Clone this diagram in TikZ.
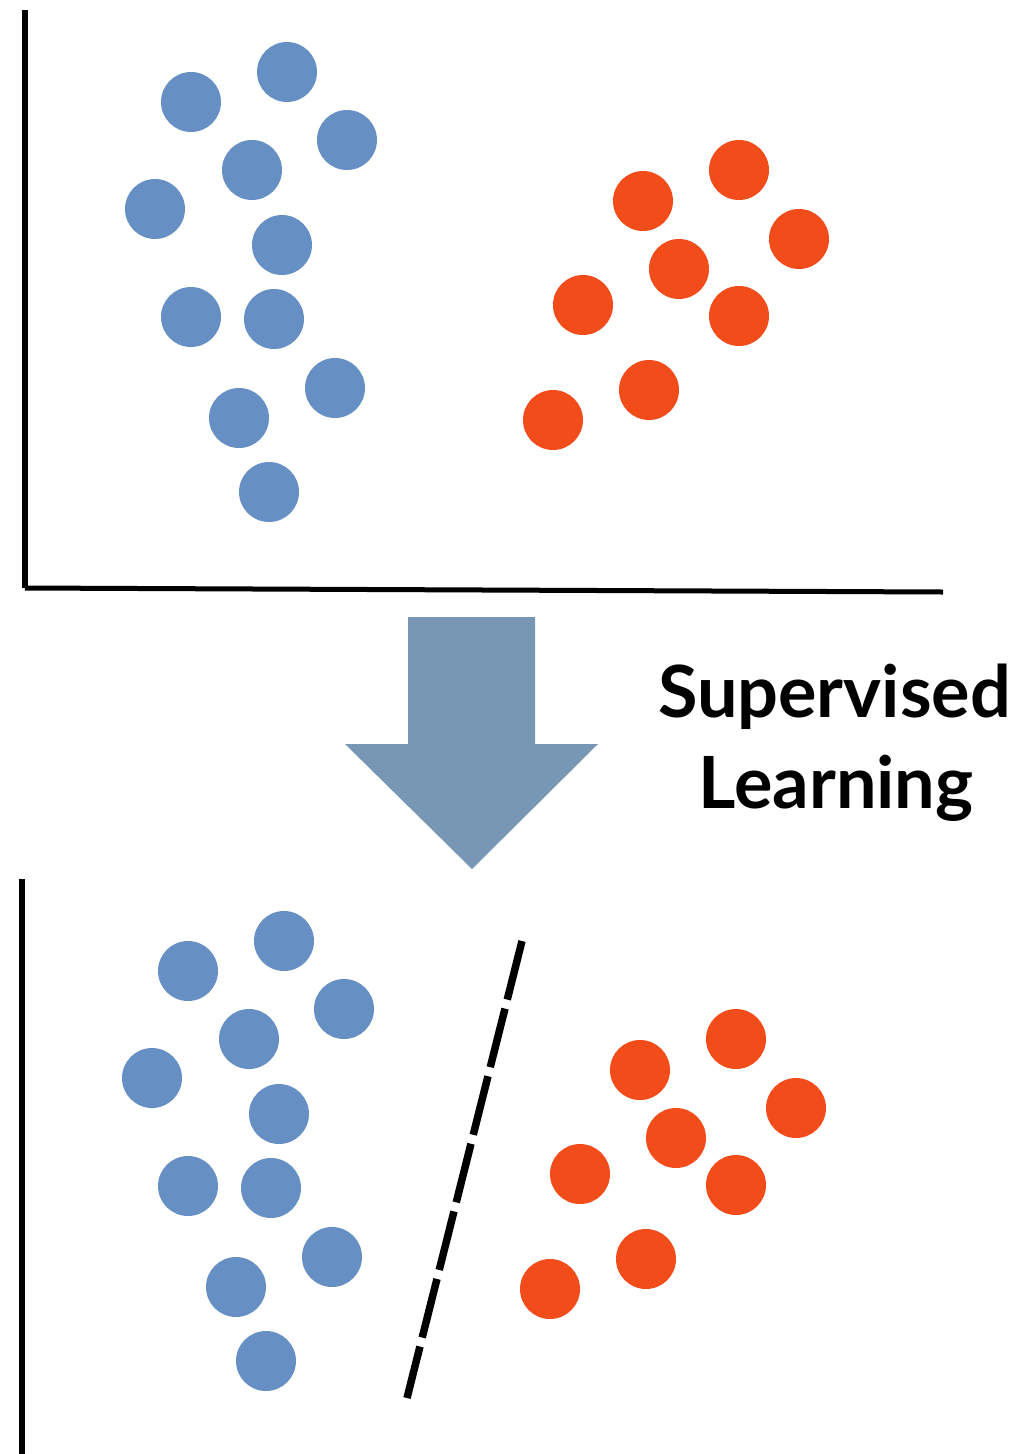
\documentclass[tikz,border=0pt]{standalone}
\usepackage{fontspec}
\newfontfamily\labelfont{Lato}
\definecolor{ptblue}{HTML}{6690C4}
\definecolor{ptred}{HTML}{F24C1A}
\definecolor{arrowblue}{HTML}{7797B4}
\begin{document}
\begin{tikzpicture}[x=1pt,y=-1pt,
  bluept/.style={circle,fill=ptblue,inner sep=0pt,minimum size=60pt},
  redpt/.style={circle,fill=ptred,inner sep=0pt,minimum size=60pt},
  axis/.style={line width=6pt,black},
  boundary/.style={line width=7.5pt,black,dash pattern=on 60.4pt off 9.3pt},
  caption/.style={font=\labelfont\bfseries\fontsize{72}{91}\selectfont,inner sep=0pt,anchor=base}]
\useasboundingbox (0,0) rectangle (1023,1454);

% ---------- upper panel: unlabelled data ----------
\coordinate (ytop) at (25,10);
\coordinate (origin) at (25,588);
\coordinate (xend) at (943,592);
\draw[axis] (ytop) -- (origin);
\draw[line width=5pt] (origin) -- (xend);

\foreach \x/\y [count=\i] in {191/102,287/72,347/140,252/170,155/209,282/245,
  191/317,274/319,335/388,239/418,269/492}
  \node[bluept] (ub\i) at (\x,\y) {};
\foreach \x/\y [count=\i] in {739/170,643/201,799/239,679/269,583/305,739/316,
  649/390,553/420}
  \node[redpt] (ur\i) at (\x,\y) {};

% ---------- block arrow ----------
\fill[arrowblue] (408,617) -- (535,617) -- (535,744) -- (598,744) -- (472,869)
  -- (345,744) -- (408,744) -- cycle;
\node[caption] (sup) at (834.5,717) {Supervised};
\node[caption] (lrn) at (836,808) {Learning};

% ---------- lower panel: separated classes ----------
\coordinate (ytop2) at (22,879);
\coordinate (ybot2) at (22,1454);
\draw[axis] (ytop2) -- (ybot2);

\foreach \x/\y [count=\i] in {191/102,287/72,347/140,252/170,155/209,282/245,
  191/317,274/319,335/388,239/418,269/492}
  \node[bluept] (lb\i) at (\x-3,\y+869) {};
\foreach \x/\y [count=\i] in {739/170,643/201,799/239,679/269,583/305,739/316,
  649/390,553/420}
  \node[redpt] (lr\i) at (\x-3,\y+869) {};

\coordinate (sepA) at (522,941);
\coordinate (sepB) at (407,1398);
\draw[boundary] (sepA) -- (sepB);
\end{tikzpicture}
\end{document}
